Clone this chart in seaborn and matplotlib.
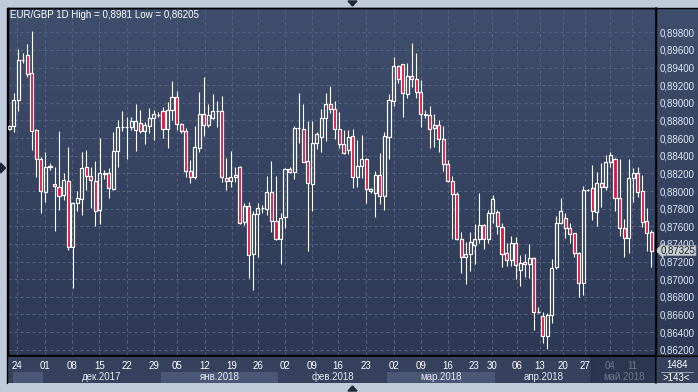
import matplotlib
matplotlib.use("Agg")
import matplotlib.pyplot as plt
import numpy as np
import seaborn as sns
from matplotlib.colors import LinearSegmentedColormap
from matplotlib.lines import Line2D
from matplotlib.patches import Polygon
from matplotlib.ticker import FuncFormatter

# daily candles
opens = [
    0.88708, 0.88738, 0.89033, 0.89486, 0.89543, 0.89335, 0.88693, 0.88360, 0.87993, 0.88277,
    0.88076, 0.88042, 0.87952, 0.88118, 0.87362, 0.87861, 0.87906, 0.88273, 0.88171, 0.88118,
    0.87782, 0.88197, 0.88201, 0.88027, 0.88451, 0.88730, 0.88726, 0.88723, 0.88693, 0.88768,
    0.88681, 0.88738, 0.88825, 0.88863, 0.88908, 0.88700, 0.88919, 0.89063, 0.88756, 0.88681,
    0.88227, 0.88163, 0.88484, 0.88870, 0.88745, 0.88825, 0.88911, 0.88911, 0.88144, 0.88114,
    0.88155, 0.88269, 0.87645, 0.87830, 0.87282, 0.87740, 0.87804, 0.87793, 0.87985, 0.87657,
    0.87452, 0.87702, 0.88246, 0.88212, 0.88711, 0.88700, 0.88344, 0.88076, 0.88541, 0.88617,
    0.88832, 0.88983, 0.88927, 0.88700, 0.88530, 0.88465, 0.88624, 0.88155, 0.88284, 0.88359,
    0.87997, 0.87981, 0.88182, 0.87944, 0.88616, 0.89025, 0.89418, 0.89437, 0.89096, 0.89304,
    0.89267, 0.89127, 0.88870, 0.88862, 0.88711, 0.88749, 0.88586, 0.88303, 0.88117, 0.87963,
    0.87452, 0.87256, 0.87286, 0.87388, 0.87452, 0.87615, 0.87452, 0.87747, 0.87766, 0.87596,
    0.87293, 0.87218, 0.87414, 0.87104, 0.87200, 0.87170, 0.87237, 0.86632, 0.86587, 0.86356,
    0.86594, 0.87142, 0.87634, 0.87690, 0.87577, 0.87520, 0.87301, 0.86961, 0.88012, 0.88031,
    0.87766, 0.88087, 0.88042, 0.88325, 0.88359, 0.87925, 0.87577, 0.87464, 0.88151, 0.88200,
    0.88000, 0.87660, 0.87531,
]
highs = [
    0.88746, 0.89108, 0.89607, 0.89562, 0.89668, 0.89815, 0.88700, 0.88390, 0.88443, 0.88315,
    0.88277, 0.88681, 0.88201, 0.88504, 0.87870, 0.88005, 0.88439, 0.88466, 0.88277, 0.88341,
    0.88606, 0.88239, 0.88258, 0.88670, 0.88806, 0.88908, 0.88844, 0.88844, 0.88987, 0.88919,
    0.88787, 0.88938, 0.88919, 0.88900, 0.88957, 0.89014, 0.89248, 0.89135, 0.88775, 0.88711,
    0.88352, 0.88738, 0.89119, 0.89289, 0.88983, 0.89100, 0.89021, 0.89078, 0.88371, 0.88454,
    0.88276, 0.88284, 0.87860, 0.87879, 0.87777, 0.87860, 0.87842, 0.88174, 0.88341, 0.88174,
    0.87747, 0.88258, 0.88269, 0.88738, 0.89116, 0.88987, 0.88794, 0.88794, 0.88673, 0.88930,
    0.89116, 0.89191, 0.89021, 0.88900, 0.88692, 0.88692, 0.88703, 0.88579, 0.88631, 0.88371,
    0.88031, 0.88231, 0.88435, 0.88673, 0.89100, 0.89524, 0.89429, 0.89440, 0.89448, 0.89682,
    0.89569, 0.89260, 0.88919, 0.88964, 0.88873, 0.88805, 0.88737, 0.88352, 0.88170, 0.87993,
    0.87539, 0.87426, 0.87539, 0.87626, 0.87981, 0.87622, 0.87785, 0.87955, 0.87785, 0.87641,
    0.87407, 0.87490, 0.87482, 0.87274, 0.87286, 0.87400, 0.87248, 0.86689, 0.86632, 0.86621,
    0.87225, 0.87717, 0.87917, 0.87755, 0.87634, 0.87528, 0.87312, 0.88057, 0.88020, 0.88295,
    0.88220, 0.88322, 0.88408, 0.88446, 0.88371, 0.88359, 0.87679, 0.88359, 0.88257, 0.88276,
    0.88182, 0.87804, 0.87558,
]
lows = [
    0.88693, 0.88674, 0.88912, 0.89449, 0.89297, 0.88466, 0.88163, 0.87755, 0.87880, 0.88239,
    0.87551, 0.87785, 0.87899, 0.87332, 0.86897, 0.87778, 0.87729, 0.88012, 0.87804, 0.87608,
    0.87623, 0.88133, 0.87925, 0.88012, 0.88277, 0.88681, 0.88360, 0.88693, 0.88458, 0.88655,
    0.88530, 0.88655, 0.88579, 0.88844, 0.88598, 0.88485, 0.88806, 0.88693, 0.88662, 0.88155,
    0.88095, 0.88133, 0.88447, 0.88624, 0.88722, 0.88813, 0.88730, 0.88106, 0.88012, 0.88050,
    0.88106, 0.87622, 0.87615, 0.87010, 0.86878, 0.87248, 0.87755, 0.87728, 0.87539, 0.87445,
    0.87173, 0.87577, 0.88201, 0.88133, 0.88549, 0.88330, 0.87324, 0.87777, 0.88473, 0.88439,
    0.88567, 0.88889, 0.88586, 0.88484, 0.88416, 0.88420, 0.88038, 0.88050, 0.88144, 0.87860,
    0.87981, 0.87709, 0.87853, 0.87785, 0.88360, 0.88964, 0.89229, 0.88843, 0.89051, 0.89183,
    0.89059, 0.88730, 0.88824, 0.88492, 0.88503, 0.88446, 0.88231, 0.88106, 0.87452, 0.87445,
    0.87067, 0.86950, 0.87097, 0.87169, 0.87407, 0.87339, 0.87414, 0.87641, 0.87513, 0.87135,
    0.87150, 0.87150, 0.87002, 0.86927, 0.87029, 0.87010, 0.86424, 0.86613, 0.86273, 0.86205,
    0.86507, 0.87112, 0.87622, 0.87464, 0.87414, 0.87256, 0.86802, 0.86821, 0.88000, 0.87671,
    0.87603, 0.87823, 0.88012, 0.88276, 0.87773, 0.87490, 0.87256, 0.87301, 0.87879, 0.87936,
    0.87596, 0.87324, 0.87135,
]
closes = [
    0.88738, 0.89033, 0.89486, 0.89490, 0.89328, 0.88681, 0.88360, 0.88001, 0.88273, 0.88280,
    0.88058, 0.87944, 0.88126, 0.87362, 0.87861, 0.87918, 0.88262, 0.88171, 0.88126, 0.87774,
    0.88201, 0.88201, 0.88031, 0.88451, 0.88730, 0.88726, 0.88730, 0.88795, 0.88795, 0.88681,
    0.88746, 0.88833, 0.88870, 0.88867, 0.88700, 0.88919, 0.89063, 0.88757, 0.88681, 0.88227,
    0.88163, 0.88496, 0.88870, 0.88745, 0.88862, 0.88911, 0.88908, 0.88155, 0.88114, 0.88155,
    0.88178, 0.87634, 0.87830, 0.87275, 0.87740, 0.87804, 0.87806, 0.87985, 0.87657, 0.87452,
    0.87691, 0.88246, 0.88212, 0.88711, 0.88715, 0.88333, 0.88087, 0.88541, 0.88647, 0.88832,
    0.88983, 0.88927, 0.88700, 0.88530, 0.88435, 0.88617, 0.88163, 0.88284, 0.88359, 0.88019,
    0.88027, 0.88182, 0.87944, 0.88624, 0.89032, 0.89418, 0.89267, 0.89108, 0.89304, 0.89267,
    0.89127, 0.88870, 0.88866, 0.88700, 0.88749, 0.88586, 0.88303, 0.88117, 0.87963, 0.87452,
    0.87248, 0.87286, 0.87426, 0.87452, 0.87615, 0.87452, 0.87747, 0.87906, 0.87603, 0.87286,
    0.87218, 0.87407, 0.87161, 0.87188, 0.87170, 0.87237, 0.86632, 0.86628, 0.86356, 0.86594,
    0.87123, 0.87634, 0.87773, 0.87584, 0.87509, 0.87293, 0.86961, 0.88012, 0.88016, 0.87773,
    0.88087, 0.88042, 0.88325, 0.88408, 0.87925, 0.87577, 0.87464, 0.88144, 0.88200, 0.87985,
    0.87653, 0.87520, 0.87325,
]

day_labels = ["24", "01", "08", "15", "22", "29", "05", "12", "19", "26", "02", "09", "16",
              "23", "02", "09", "16", "23", "30", "06", "13", "20", "27", "04", "11"]
day_ticks = [1.7, 7.9, 13.9, 19.9, 26.0, 32.0, 37.0, 43.3, 49.3, 55.0, 61.0, 67.0, 72.7,
             78.9, 85.1, 91.1, 97.1, 102.8, 106.8, 112.3, 117.4, 122.5, 127.4, 132.9, 137.8]
month_labels = ["", "дек.2017", "янв.2018", "фев.2018", "мар.2018", "апр.2018", "май.2018"]
month_edges = [0.8, 7.5, 33.5, 59.5, 83.5, 107.5, 128.8]
price_ticks = [0.862, 0.864, 0.866, 0.868, 0.870, 0.872, 0.874, 0.876, 0.878, 0.880,
               0.882, 0.884, 0.886, 0.888, 0.890, 0.892, 0.894, 0.896, 0.898]
last_price = 0.87325
title = "EUR/GBP 1D High = 0,8981 Low = 0,86205"
bars_total = "1484"
bars_shown = ">143<"

W, H = 698, 392
OUTER = "#bfcadb"
BG_TOP = "#3f4e6c"
BG_BOTTOM = "#2d3955"
GRID = "#56657f"
RED = "#e3143c"
LABEL = "#dfe8f6"
DATE_BG = "#35415d"
BAND = "#4a5876"
FUTURE = "#2c3650"
PX = 0.72  # one pixel in points

sns.set_theme(style="dark")
plt.rcParams["font.family"] = ["Liberation Sans", "DejaVu Sans"]


def comma(v, _pos=None):
    return f"{v:.5f}".replace(".", ",")


fig = plt.figure(figsize=(W / 100, H / 100), dpi=100, facecolor=OUTER)

# gradient behind the plot and the price scale
bg = fig.add_axes([8 / W, 37 / H, 690 / W, 347 / H], zorder=0)
cmap = LinearSegmentedColormap.from_list("bg", [BG_TOP, BG_BOTTOM])
bg.imshow(np.linspace(0, 1, 256).reshape(-1, 1), cmap=cmap, aspect="auto", extent=[0, 1, 0, 1])
bg.set_axis_off()

ax = fig.add_axes([8 / W, 37 / H, 648 / W, 347 / H], zorder=2)
ax.set_facecolor("none")

o = np.array(opens)
c = np.array(closes)
hi = np.array(highs)
lo = np.array(lows)
x = np.arange(len(o))
top = np.maximum(o, c)
bot = np.minimum(o, c)
body = np.maximum(top - bot, 0.00003)
up = c >= o

ax.vlines(x, top, hi, color="white", lw=PX * 1.1, zorder=3)
ax.vlines(x, lo, bot, color="white", lw=PX * 1.1, zorder=3)
ax.bar(x[up], body[up], bottom=bot[up], width=0.68, facecolor="none",
       edgecolor="white", linewidth=PX * 1.2, zorder=4)
ax.bar(x[~up], body[~up], bottom=bot[~up], width=0.68, facecolor=RED,
       edgecolor="white", linewidth=PX * 1.2, zorder=4)

ax.set_xlim(-0.29, 143.07)
ax.set_ylim(0.861401, 0.900756)
ax.set_xticks(day_ticks)
ax.set_yticks(price_ticks)
ax.grid(True, color=GRID, linestyle=(0, (3, 3)), lw=PX)
ax.yaxis.tick_right()
ax.yaxis.set_major_formatter(FuncFormatter(comma))
ax.tick_params(axis="y", length=0, pad=2.5, labelsize=7, labelcolor=LABEL)
ax.tick_params(axis="x", length=0, labelbottom=False)
for s in ax.spines.values():
    s.set_color("black")
    s.set_linewidth(1)

ax.annotate(comma(last_price), xy=(1.0, last_price), xycoords=("axes fraction", "data"),
            xytext=(3.5, 0), textcoords="offset points", ha="left", va="center",
            fontsize=7, color="#202020", annotation_clip=False, zorder=10,
            bbox=dict(boxstyle="larrow,pad=0.02", fc="#c9ced6", ec="#9aa3b0", lw=0.5))

fig.text(10 / W, 1 - 15 / H, title, color="white", fontsize=7, ha="left", va="center", zorder=5)

# date scale
axd = fig.add_axes([8 / W, 9 / H, 648 / W, 27 / H], zorder=1)
axd.set_facecolor(DATE_BG)
axd.set_xlim(ax.get_xlim())
axd.set_ylim(0, 1)
axd.set_xticks([])
axd.set_yticks([])
for s in axd.spines.values():
    s.set_visible(False)
ends = month_edges[1:] + [ax.get_xlim()[1]]
for k, (a, b) in enumerate(zip(month_edges, ends)):
    last = k == len(month_edges) - 1
    if last:
        axd.axvspan(a, b, 0, 1, color=FUTURE, lw=0)
        axd.axvline(a, color="#26304a", lw=1)
    elif k % 2 == 0:
        axd.axvspan(a, b, 0, 0.42, color=BAND, lw=0)
    axd.text((a + b) / 2, 0.22, month_labels[k], ha="center", va="center", fontsize=7,
             color="#6f7a8e" if last else "#e4e9f2")
for t, lab in zip(day_ticks, day_labels):
    axd.text(t, 0.62, lab, ha="center", va="center", fontsize=7,
             color="#6f7a8e" if t > month_edges[-1] else "white")

# bar counter box
axc = fig.add_axes([657 / W, 9 / H, 41 / W, 27 / H], zorder=1)
axc.set_facecolor(DATE_BG)
axc.set_xlim(0, 1)
axc.set_ylim(0, 1)
axc.set_xticks([])
axc.set_yticks([])
for s in axc.spines.values():
    s.set_visible(False)
axc.text(0.48, 0.66, bars_total, ha="center", va="center", fontsize=7, color="white")
axc.text(0.48, 0.2, bars_shown, ha="center", va="center", fontsize=7, color="white")
axc.plot([0.1, 0.88], [0.42, 0.42], color="#aab3c4", lw=0.6)

# frame lines and scroll markers
fig.add_artist(Line2D([656 / W, 656 / W], [1 - 8 / H, 9 / H], color="black", lw=1.2, zorder=6))
fig.add_artist(Line2D([8 / W, 1], [1 - 355.5 / H, 1 - 355.5 / H], color="black", lw=1.2, zorder=6))
fig.add_artist(Line2D([7.5 / W, 1], [1 - 7.5 / H, 1 - 7.5 / H], color="black", lw=1, zorder=6))
fig.add_artist(Line2D([7.5 / W, 7.5 / W], [1 - 7.5 / H, 9 / H], color="black", lw=1, zorder=6))
for pts in ([(348, 1), (357, 1), (352.5, 6)],
            [(0.5, 163), (0.5, 173), (5.5, 168)],
            [(348, 391), (357, 391), (352.5, 386)]):
    fig.add_artist(Polygon([(px / W, 1 - py / H) for px, py in pts], closed=True,
                           transform=fig.transFigure, color="#1d2739", zorder=7))

fig.savefig("out.png", dpi=100, facecolor=OUTER)
